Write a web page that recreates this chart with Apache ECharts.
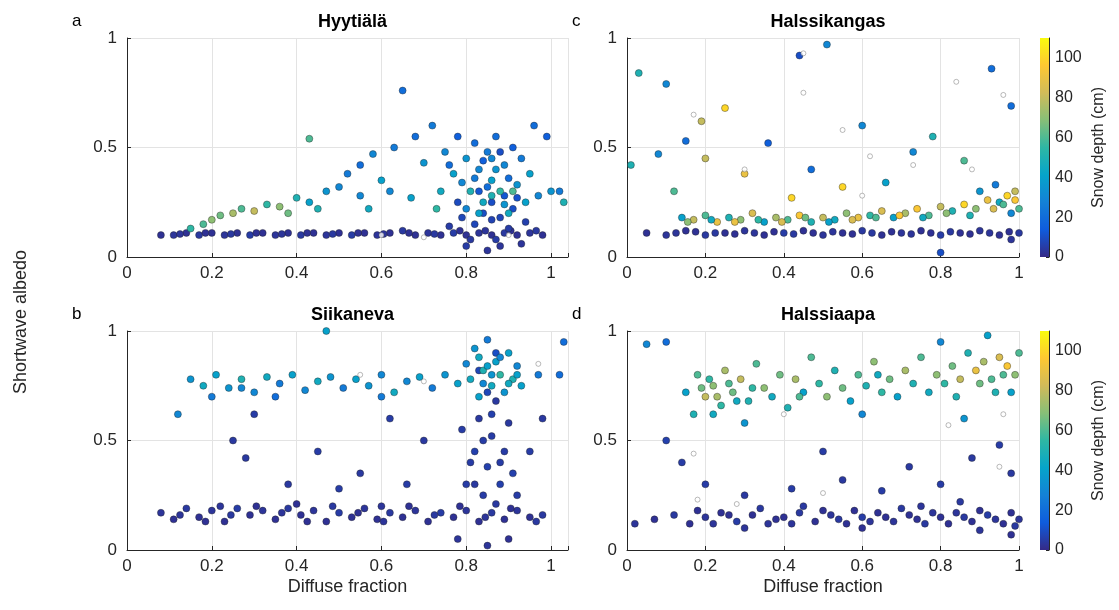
<!DOCTYPE html>
<html>
<head>
<meta charset="utf-8">
<script src="https://cdn.jsdelivr.net/npm/echarts@6/dist/echarts.min.js"></script>
<style>html,body{margin:0;background:#fff}#main{width:1119px;height:610px}</style>
</head>
<body>
<div id="main"></div>
<script>
// [diffuse fraction, albedo, snow depth cm]
var hyytiala = [
 [0.08,0.10,2],[0.11,0.10,3],[0.14,0.11,2],[0.17,0.10,4],[0.2,0.11,2],[0.23,0.10,3],[0.26,0.11,2],[0.29,0.10,5],
 [0.32,0.11,2],[0.35,0.10,3],[0.38,0.11,2],[0.41,0.10,4],[0.44,0.11,2],[0.47,0.10,3],[0.5,0.11,2],[0.53,0.10,5],
 [0.56,0.11,2],[0.59,0.10,3],[0.62,0.11,2],[0.65,0.12,4],[0.68,0.10,2],[0.71,0.11,3],[0.74,0.10,2],[0.77,0.11,5],
 [0.8,0.10,2],[0.83,0.11,3],[0.86,0.10,2],[0.89,0.11,4],[0.92,0.10,2],[0.95,0.11,3],[0.98,0.10,2],
 [0.125,0.105,3],[0.185,0.11,2],[0.245,0.105,4],[0.305,0.11,2],[0.365,0.105,3],[0.425,0.11,2],[0.485,0.105,4],
 [0.545,0.11,2],[0.605,0.105,3],[0.665,0.11,2],[0.725,0.105,4],[0.785,0.12,2],[0.845,0.12,3],[0.905,0.12,2],[0.965,0.12,4],
 [0.8,0.05,5],[0.82,0.15,8],[0.84,0.2,10],[0.85,0.03,3],[0.86,0.25,10],[0.87,0.08,5],[0.88,0.18,8],[0.9,0.13,5],
 [0.91,0.22,10],[0.93,0.06,3],[0.83,0.3,12],[0.79,0.18,8],[0.76,0.14,5],[0.89,0.28,12],[0.81,0.08,4],[0.94,0.16,6],
 [0.86,0.17,7],[0.88,0.05,3],[0.78,0.25,9],[0.92,0.27,11],
 [0.15,0.13,55],[0.18,0.15,60],[0.2,0.17,70],[0.22,0.19,65],[0.25,0.2,75],[0.27,0.22,60],[0.3,0.21,80],[0.33,0.24,55],
 [0.36,0.23,70],[0.4,0.27,50],[0.43,0.25,40],[0.47,0.3,35],[0.5,0.32,30],[0.52,0.38,25],[0.55,0.42,20],[0.58,0.47,30],
 [0.6,0.35,40],[0.63,0.5,25],[0.65,0.76,20],[0.43,0.54,60],[0.68,0.55,20],[0.7,0.43,35],[0.72,0.6,25],[0.74,0.3,45],
 [0.75,0.48,30],[0.77,0.38,40],[0.78,0.55,15],[0.8,0.45,35],[0.81,0.3,50],[0.82,0.52,20],[0.83,0.4,30],[0.84,0.25,45],
 [0.85,0.48,25],[0.86,0.35,40],[0.87,0.55,20],[0.88,0.3,55],[0.89,0.42,30],[0.9,0.2,45],[0.91,0.5,15],[0.92,0.33,35],
 [0.93,0.45,25],[0.95,0.38,40],[0.97,0.28,30],[0.99,0.55,15],[1.0,0.3,35],[1.02,0.3,25],[1.03,0.25,50],[0.96,0.6,20],
 [0.86,0.45,30],[0.8,0.22,30],[0.38,0.2,65],[0.45,0.22,50],[0.55,0.28,30],[0.62,0.3,30],
 [0.82,0.36,25],[0.84,0.44,15],[0.85,0.32,20],[0.87,0.4,35],[0.88,0.48,10],[0.9,0.36,20],[0.83,0.2,40],[0.86,0.28,50],
 [0.79,0.34,30],[0.76,0.42,20],[0.89,0.24,35],[0.91,0.3,60],[0.94,0.25,40],[0.73,0.22,55],[0.67,0.27,40],[0.57,0.22,45]
];
var siikaneva = [
 [0.08,0.17,3],[0.11,0.14,2],[0.14,0.19,4],[0.17,0.15,2],[0.2,0.18,3],[0.23,0.13,2],[0.26,0.19,5],[0.29,0.16,2],
 [0.32,0.18,3],[0.35,0.14,2],[0.38,0.19,4],[0.41,0.16,2],[0.44,0.18,3],[0.47,0.13,2],[0.5,0.17,5],[0.53,0.15,2],
 [0.56,0.19,3],[0.59,0.14,2],[0.62,0.17,4],[0.65,0.15,2],[0.68,0.18,3],[0.71,0.13,2],[0.74,0.17,5],[0.77,0.15,2],
 [0.8,0.18,3],[0.83,0.13,2],[0.86,0.17,4],[0.89,0.14,2],[0.92,0.18,3],[0.95,0.15,2],[0.98,0.16,4],
 [0.125,0.16,3],[0.185,0.13,2],[0.245,0.16,4],[0.305,0.2,2],[0.365,0.17,3],[0.425,0.13,2],[0.485,0.2,4],[0.545,0.17,2],
 [0.605,0.13,3],[0.665,0.2,2],[0.725,0.16,4],[0.785,0.2,2],[0.845,0.15,3],[0.905,0.19,2],[0.965,0.13,4],
 [0.22,0.2,3],[0.4,0.21,2],[0.6,0.2,3],[0.87,0.21,4],[0.85,0.02,3],[0.9,0.05,2],[0.78,0.05,3],
 [0.8,0.3,5],[0.82,0.45,6],[0.83,0.6,4],[0.84,0.25,5],[0.85,0.38,6],[0.86,0.52,5],[0.87,0.68,4],[0.88,0.3,6],
 [0.89,0.45,5],[0.9,0.58,4],[0.91,0.35,6],[0.92,0.25,5],[0.85,0.72,8],[0.83,0.82,8],[0.81,0.4,5],[0.87,0.9,10],
 [0.79,0.55,5],[0.25,0.5,4],[0.3,0.62,5],[0.28,0.42,4],[0.45,0.45,5],[0.55,0.35,4],[0.62,0.6,5],[0.7,0.5,4],
 [0.5,0.28,5],[0.38,0.3,4],[0.66,0.3,5],[0.98,0.6,4],[0.95,0.45,5],[0.84,0.5,5],[0.86,0.62,6],[0.88,0.4,5],[0.82,0.3,4],
 [0.12,0.62,30],[0.15,0.78,35],[0.18,0.75,45],[0.21,0.8,40],[0.24,0.74,35],[0.27,0.78,50],[0.3,0.72,30],[0.33,0.79,45],
 [0.36,0.76,25],[0.39,0.8,40],[0.42,0.73,30],[0.45,0.77,45],[0.47,1.0,40],[0.48,0.79,35],[0.51,0.74,25],[0.54,0.78,40],
 [0.57,0.75,35],[0.6,0.8,30],[0.63,0.72,45],[0.66,0.77,30],[0.69,0.79,40],[0.72,0.74,25],[0.75,0.8,35],[0.78,0.76,40],
 [0.8,0.85,30],[0.81,0.78,45],[0.82,0.92,35],[0.83,0.7,40],[0.84,0.82,50],[0.85,0.96,25],[0.86,0.75,45],[0.87,0.86,40],
 [0.88,0.8,55],[0.89,0.72,35],[0.9,0.9,40],[0.91,0.78,50],[0.92,0.84,30],[0.93,0.75,40],[0.97,0.8,25],[1.02,0.8,20],
 [1.03,0.95,20],[0.2,0.7,25],[0.35,0.7,20],[0.6,0.7,25],[0.83,0.88,45],[0.86,0.8,35],[0.88,0.88,30],[0.9,0.76,45],
 [0.85,0.84,40],[0.27,0.74,30],[0.84,0.76,30],[0.92,0.8,40]
];
var halssikangas = [
 [0.05,0.11,2],[0.1,0.10,3],[0.15,0.12,2],[0.2,0.10,4],[0.25,0.11,2],[0.3,0.12,3],[0.35,0.10,2],[0.4,0.11,5],
 [0.45,0.12,2],[0.5,0.10,3],[0.55,0.11,2],[0.6,0.12,4],[0.65,0.10,2],[0.7,0.11,3],[0.75,0.12,2],[0.8,0.10,5],
 [0.85,0.11,2],[0.9,0.12,3],[0.95,0.10,2],[1.0,0.11,4],[0.98,0.08,3],[0.8,0.02,10],
 [0.125,0.11,3],[0.175,0.115,2],[0.225,0.11,4],[0.275,0.105,2],[0.325,0.11,3],[0.375,0.115,2],[0.425,0.105,4],
 [0.475,0.11,2],[0.525,0.115,3],[0.575,0.105,2],[0.625,0.11,4],[0.675,0.115,2],[0.725,0.105,3],[0.775,0.11,2],
 [0.825,0.115,4],[0.875,0.105,2],[0.925,0.11,3],[0.975,0.115,2],
 [0.14,0.18,40],[0.17,0.17,80],[0.2,0.19,60],[0.23,0.16,90],[0.26,0.18,50],[0.29,0.17,70],[0.32,0.2,85],[0.35,0.16,40],
 [0.38,0.18,75],[0.41,0.17,60],[0.44,0.19,95],[0.47,0.16,50],[0.5,0.18,80],[0.53,0.17,45],[0.56,0.2,70],[0.59,0.18,90],
 [0.62,0.19,55],[0.65,0.21,85],[0.68,0.18,40],[0.71,0.2,75],[0.74,0.22,95],[0.77,0.19,60],[0.8,0.23,80],[0.83,0.21,50],
 [0.86,0.24,100],[0.89,0.22,70],[0.92,0.26,90],[0.95,0.25,45],[0.97,0.28,100],[0.99,0.3,80],[1.0,0.22,60],[0.98,0.2,30],
 [0.94,0.33,25],[0.9,0.3,35],
 [0.155,0.16,70],[0.215,0.17,45],[0.275,0.16,90],[0.335,0.17,55],[0.395,0.16,85],[0.455,0.18,65],[0.515,0.16,40],
 [0.575,0.17,85],[0.635,0.18,60],[0.695,0.19,95],[0.755,0.18,45],[0.815,0.2,70],[0.875,0.19,50],[0.935,0.22,85],
 [0.96,0.24,60],[0.99,0.26,95],
 [0.03,0.84,50],[0.1,0.79,30],[0.51,0.97,30],[0.44,0.92,10],[0.93,0.86,20],[0.98,0.69,20],[0.25,0.68,100],[0.19,0.62,80],
 [0.15,0.53,20],[0.08,0.47,30],[0.01,0.42,50],[0.36,0.52,15],[0.6,0.6,30],[0.78,0.55,50],[0.73,0.48,30],[0.86,0.44,60],
 [0.3,0.38,90],[0.55,0.32,100],[0.66,0.34,40],[0.12,0.3,60],[0.42,0.27,100],[0.2,0.45,80],[0.47,0.4,20]
];
var halssiaapa = [
 [0.02,0.12,3],[0.07,0.14,2],[0.12,0.16,4],[0.16,0.12,2],[0.2,0.15,3],[0.24,0.17,2],[0.28,0.13,5],[0.32,0.16,2],
 [0.36,0.12,3],[0.4,0.15,2],[0.44,0.17,4],[0.48,0.13,2],[0.52,0.16,3],[0.56,0.12,2],[0.6,0.15,5],[0.64,0.17,2],
 [0.68,0.13,3],[0.72,0.16,2],[0.76,0.12,4],[0.8,0.15,2],[0.84,0.17,3],[0.88,0.13,2],[0.92,0.16,5],[0.96,0.12,2],
 [1.0,0.14,3],[0.98,0.07,2],[0.9,0.09,3],[0.6,0.1,2],[0.3,0.1,3],[0.45,0.2,4],[0.75,0.2,3],
 [0.18,0.18,2],[0.22,0.12,3],[0.26,0.16,2],[0.34,0.19,4],[0.38,0.14,2],[0.42,0.12,3],[0.5,0.18,2],[0.54,0.14,4],
 [0.58,0.18,2],[0.62,0.13,3],[0.66,0.15,2],[0.7,0.19,4],[0.74,0.14,2],[0.78,0.17,3],[0.82,0.12,2],[0.86,0.15,4],
 [0.9,0.18,2],[0.94,0.14,3],[0.98,0.17,2],[0.99,0.11,4],
 [0.2,0.3,5],[0.3,0.25,4],[0.42,0.28,5],[0.55,0.32,4],[0.65,0.27,5],[0.72,0.38,4],[0.8,0.3,5],[0.88,0.42,4],
 [0.95,0.48,5],[0.98,0.35,4],[0.1,0.5,6],[0.14,0.4,5],[0.5,0.45,5],[0.85,0.22,4],
 [0.05,0.94,30],[0.1,0.95,20],[0.15,0.72,40],[0.17,0.62,50],[0.18,0.8,60],[0.2,0.7,80],[0.22,0.75,70],[0.24,0.66,55],
 [0.25,0.82,75],[0.27,0.72,65],[0.29,0.78,80],[0.31,0.68,50],[0.33,0.85,60],[0.35,0.74,70],[0.37,0.7,45],[0.39,0.8,65],
 [0.41,0.65,50],[0.43,0.78,75],[0.45,0.72,40],[0.47,0.88,60],[0.49,0.76,55],[0.51,0.7,70],[0.53,0.82,50],[0.55,0.74,65],
 [0.57,0.68,40],[0.59,0.8,60],[0.61,0.75,50],[0.63,0.86,70],[0.65,0.72,55],[0.67,0.78,65],[0.69,0.7,40],[0.71,0.82,75],
 [0.73,0.76,50],[0.75,0.88,60],[0.77,0.72,45],[0.79,0.8,70],[0.81,0.76,55],[0.83,0.84,65],[0.85,0.78,80],[0.87,0.9,50],
 [0.89,0.82,90],[0.91,0.86,75],[0.93,0.78,60],[0.95,0.88,85],[0.97,0.84,95],[0.99,0.8,70],[1.0,0.9,60],[0.98,0.72,40],
 [0.92,0.98,40],[0.8,0.95,30],[0.3,0.58,35],[0.6,0.62,30],[0.86,0.6,35],[0.22,0.62,45],
 [0.19,0.74,65],[0.21,0.78,55],[0.23,0.7,75],[0.26,0.76,60],[0.28,0.68,45],[0.32,0.74,55],[0.44,0.7,60],[0.64,0.8,45],
 [0.84,0.7,50],[0.9,0.76,65],[0.96,0.8,60],[0.94,0.72,50]
];
var nanKangas = [[0.45,0.93],[0.45,0.75],[0.84,0.8],[0.96,0.74],[0.17,0.65],[0.62,0.46],[0.73,0.42],[0.3,0.4],[0.55,0.58],[0.88,0.4],[0.6,0.28]];
var nanAapa = [[0.18,0.23],[0.28,0.21],[0.5,0.26],[0.17,0.44],[0.82,0.57],[0.95,0.38],[0.4,0.62],[0.96,0.62]];
var nanSiika = [[0.97,0.85],[0.55,0.8],[0.7,0.77]];
var nanHyy = [[0.6,0.1],[0.7,0.09],[0.9,0.1]];
var xTicks = [0, 0.2, 0.4, 0.6, 0.8, 1];
var yTicks = [0, 0.5, 1];
var cbTicks = [0, 20, 40, 60, 80, 100];

var parula = ['#352a87','#0f5cdd','#1481d6','#06a4ca','#2eb7a4','#87bf77','#d1bb59','#fec832','#f9fb0e'];
var font = 'Liberation Sans';
var txt = '#262626';

var panels = [
	{ name: 'Hyytiälä', letter: 'a', data: hyytiala, nan: nanHyy, left: 127, top: 38, width: 441, xmax: 1.04 },
	{ name: 'Siikaneva', letter: 'b', data: siikaneva, nan: nanSiika, left: 127, top: 331, width: 441, xmax: 1.04 },
	{ name: 'Halssikangas', letter: 'c', data: halssikangas, nan: nanKangas, left: 627, top: 38, width: 392, xmax: 1 },
	{ name: 'Halssiaapa', letter: 'd', data: halssiaapa, nan: nanAapa, left: 627, top: 331, width: 392, xmax: 1 }
];

var grid = [], xAxis = [], yAxis = [], series = [], title = [];
panels.forEach(function(p, i) {
	grid.push({ left: p.left, top: p.top, width: p.width, height: 219 });
	xAxis.push({
		gridIndex: i, type: 'value', min: 0, max: p.xmax, interval: 0.2,
		name: p.top > 300 ? 'Diffuse fraction' : '', nameLocation: 'middle', nameGap: 28,
		nameTextStyle: { fontSize: 18, color: txt, fontFamily: font },
		axisLine: { lineStyle: { color: txt } },
		axisTick: { inside: true, length: 4, lineStyle: { color: txt } },
		axisLabel: { fontSize: 17, color: txt, fontFamily: font, margin: 8,
			formatter: function(v) { return xTicks.indexOf(+v.toFixed(2)) >= 0 ? String(+v.toFixed(1)) : ''; } },
		splitLine: { show: true, lineStyle: { color: '#e3e3e3' } }
	});
	yAxis.push({
		gridIndex: i, type: 'value', min: 0, max: 1, interval: 0.5,
		axisLine: { show: true, lineStyle: { color: txt } },
		axisTick: { show: true, inside: true, length: 4, lineStyle: { color: txt } },
		axisLabel: { fontSize: 17, color: txt, fontFamily: font, margin: 10 },
		splitLine: { show: true, lineStyle: { color: '#e3e3e3' } }
	});
	title.push({ text: p.name, left: p.left + p.width / 2, top: p.top - 30, textAlign: 'center',
		textStyle: { fontSize: 18, fontWeight: 'bold', color: '#000', fontFamily: font } });
	title.push({ text: p.letter, left: p.left - 60, top: p.top - 30,
		textStyle: { fontSize: 17, fontWeight: 'normal', color: '#000', fontFamily: font } });
	series.push({ type: 'scatter', xAxisIndex: i, yAxisIndex: i, data: p.data, symbolSize: 7,
		itemStyle: { borderColor: '#222', borderWidth: 0.4, opacity: 1 } });
	series.push({ type: 'scatter', xAxisIndex: i, yAxisIndex: i, data: p.nan, symbolSize: 5,
		itemStyle: { color: '#fff', borderColor: '#555', borderWidth: 0.5 } });
});

// colour bars
[38, 331].forEach(function(top, k) {
	var gi = grid.length;
	grid.push({ left: 1040, top: top, width: 9, height: 219 });
	xAxis.push({ gridIndex: gi, type: 'category', data: [''], show: false });
	yAxis.push({ gridIndex: gi, type: 'value', min: 0, max: 110, interval: 20, position: 'right',
		name: 'Snow depth (cm)', nameLocation: 'middle', nameGap: 42, nameRotate: 90,
		nameTextStyle: { fontSize: 16, color: txt, fontFamily: font },
		axisLine: { show: true, lineStyle: { color: txt } },
		axisTick: { show: true, inside: true, length: 3, lineStyle: { color: txt } },
		axisLabel: { fontSize: 16, color: txt, fontFamily: font, margin: 6,
			formatter: function(v) { return cbTicks.indexOf(v) >= 0 ? v : ''; } },
		splitLine: { show: false } });
	series.push({ type: 'bar', xAxisIndex: gi, yAxisIndex: gi, data: [110], barWidth: '100%', silent: true,
		itemStyle: { color: new echarts.graphic.LinearGradient(0, 1, 0, 0,
			parula.map(function(c, j) { return { offset: j / (parula.length - 1), color: c }; })) } });
});

var chart = echarts.init(document.getElementById('main'));
chart.setOption({
	backgroundColor: '#fff',
	animation: false,
	title: title,
	grid: grid,
	xAxis: xAxis,
	yAxis: yAxis,
	visualMap: { show: false, type: 'continuous', min: 0, max: 110, dimension: 2,
		seriesIndex: [0, 2, 4, 6], inRange: { color: parula } },
	graphic: [{ type: 'text', left: 12, top: 250, rotation: Math.PI / 2,
		style: { text: 'Shortwave albedo', fontSize: 18, fill: txt, fontFamily: font } }],
	series: series
});
</script>
</body>
</html>
